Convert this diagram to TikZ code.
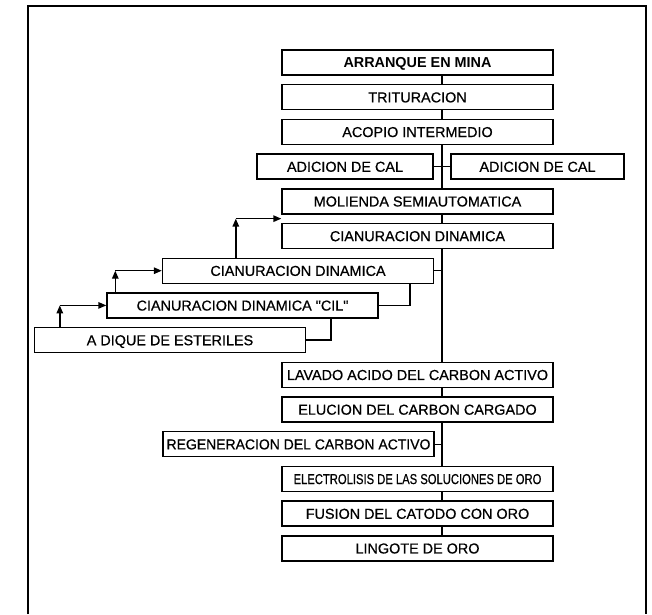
\documentclass[tikz,border=0pt]{standalone}
\usepackage{fontspec}
\setmainfont{Liberation Sans}
\newfontfamily\boxfont{Liberation Sans}[FakeBold=0.6]
\usepackage{graphicx}
\usetikzlibrary{calc,arrows.meta}
\tikzset{
  box/.style={draw,line width=1.4pt,fill=white,minimum width=271pt,minimum height=25pt,inner sep=0pt,
    text height=10.3pt,text depth=0pt,font=\boxfont\fontsize{14.4}{16}\selectfont},
  ln/.style={line width=1.4pt},
  ar/.style={-{Triangle[length=8pt,width=6.5pt]},line width=1.4pt}
}

\begin{document}
\begin{tikzpicture}[x=1pt,y=-1pt]
\useasboundingbox (0,0) rectangle (652,614);
% frame
\draw[line width=1.5pt] (28,614)--(28,6)--(646,6)--(646,614);
\coordinate (sp) at (442,0);
% main line
\node[box,font=\fontsize{14.4}{16}\selectfont\bfseries] (arr) at (417.5,62.5) {ARRANQUE EN MINA};
\node[box] (tri) at (417.5,97.2) {TRITURACION};
\node[box] (aco) at (417.5,131.9) {ACOPIO INTERMEDIO};
\node[box,minimum width=176pt] (adl) at (345,166.6) {ADICION DE CAL};
\node[box,minimum width=173pt] (adr) at (537.5,166.6) {ADICION DE CAL};
\node[box] (mol) at (417.5,201.3) {MOLIENDA SEMIAUTOMATICA};
\node[box] (cia1) at (417.5,236) {CIANURACION DINAMICA};
% side steps
\node[box] (cia2) at (298,270.7) {CIANURACION DINAMICA};
\node[box] (cil) at (242.5,305.4) {CIANURACION DINAMICA "CIL"};
\node[box] (diq) at (170,340.1) {A DIQUE DE ESTERILES};
% carbon + gold
\node[box] (lav) at (417.5,374.8) {LAVADO ACIDO DEL CARBON ACTIVO};
\node[box] (elu) at (417.5,409.5) {ELUCION DEL CARBON CARGADO};
\node[box] (reg) at (298.5,444.2) {\scalebox{0.97}[1]{REGENERACION DEL CARBON ACTIVO}};
\node[box] (ele) at (417.5,478.9) {\scalebox{0.78}[1]{ELECTROLISIS DE LAS SOLUCIONES DE ORO}};
\node[box] (fus) at (417.5,513.6) {FUSION DEL CATODO CON ORO};
\node[box] (lin) at (417.5,548.3) {LINGOTE DE ORO};
% spine
\foreach \a/\b in {arr/tri,tri/aco,aco/mol,mol/cia1,cia1/lav,lav/elu,elu/ele,ele/fus,fus/lin}
  \draw[ln] (\a.south -| sp) -- (\b.north -| sp);
\foreach \n in {adl,cia2,reg}
  \draw[ln] (\n.east) -- (\n.east -| sp);
\draw[ln] (adr.west) -- (adr.west -| sp);
\draw[ln] (cil.east) -| ([xshift=112pt]cia2.south);
\draw[ln] (diq.east) -| ([xshift=88.5pt]cil.south);
% returns
\coordinate (k1) at ([xshift=26pt]diq.north west |- cil.west);
\coordinate (k2) at ([xshift=9pt]cil.north west |- cia2.west);
\coordinate (k3) at ($(mol.south west)!0.5!(cia1.north west)$);
\coordinate (k4) at ([xshift=74pt]cia2.north west |- k3);
\draw[ar] ([xshift=26pt]diq.north west) -- (k1);
\draw[ar] (k1) -- (cil.west);
\draw[ar] ([xshift=9pt]cil.north west) -- (k2);
\draw[ar] (k2) -- (cia2.west);
\draw[ar] ([xshift=74pt]cia2.north west) -- (k4);
\draw[ar] (k4) -- (k3);
\end{tikzpicture}
\end{document}
